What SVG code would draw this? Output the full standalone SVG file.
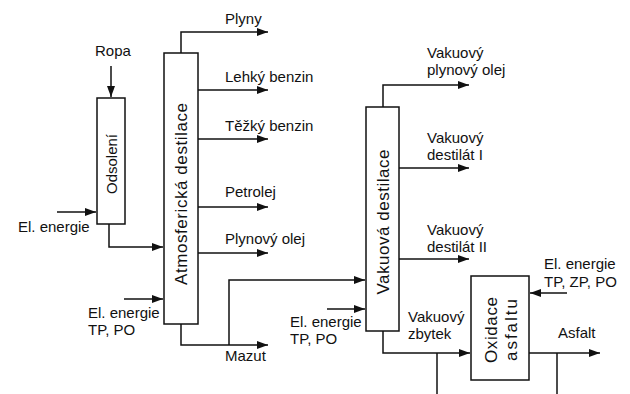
<svg xmlns="http://www.w3.org/2000/svg" width="630" height="394" viewBox="0 0 630 394">
<style>
.box{fill:#fff;stroke:#111;stroke-width:1.5}
.ln{fill:none;stroke:#111;stroke-width:1.5}
.ar{fill:none;stroke:#111;stroke-width:1.5;marker-end:url(#ah)}
text{font-family:"Liberation Sans",Arial,sans-serif;font-size:15px;fill:#111}
.rot{font-size:17px;text-anchor:middle}
</style>
<defs>
<marker id="ah" markerUnits="userSpaceOnUse" markerWidth="11" markerHeight="8" refX="11" refY="4" orient="auto">
<path d="M0,0 L11,4 L0,8 z" fill="#111"/>
</marker>
</defs>
<rect width="630" height="394" fill="#fff"/>
<g id="connectors">
<path class="ar" d="M111,66 V97"/>
<path class="ar" d="M57,212 H96"/>
<path class="ar" d="M109,224 V247 H163"/>
<path class="ar" d="M124,299 H163"/>
<path class="ar" d="M181,53 V32 H268"/>
<path class="ar" d="M198,90 H268"/>
<path class="ar" d="M198,139 H268"/>
<path class="ar" d="M198,207 H268"/>
<path class="ar" d="M198,253 H268"/>
<path class="ar" d="M181,324 V345 H268"/>
<path class="ar" d="M229,345 V280 H365"/>
<path class="ar" d="M327,309 H365"/>
<path class="ar" d="M383,107 V85 H469"/>
<path class="ar" d="M399,168 H469"/>
<path class="ar" d="M399,259 H469"/>
<path class="ar" d="M383,331 V353 H470"/>
<path class="ln" d="M437,353 V394"/>
<path class="ar" d="M567,293 H530"/>
<path class="ar" d="M529,353 H600"/>
<path class="ln" d="M557,353 V394"/>
</g>
<g id="odsoleni">
<rect class="box" x="97" y="98" width="28" height="126"/>
<text class="rot" style="font-size:15px" transform="translate(117,164) rotate(-90)">Odsolení</text>
</g>
<g id="atmosfericka">
<rect class="box" x="164" y="53" width="34" height="271"/>
<text class="rot" transform="translate(187,194) rotate(-90)" textLength="182" lengthAdjust="spacing">Atmosferická destilace</text>
</g>
<g id="vakuova">
<rect class="box" x="366" y="107" width="33" height="224"/>
<text class="rot" transform="translate(389,222) rotate(-90)" textLength="145" lengthAdjust="spacing">Vakuová destilace</text>
</g>
<g id="oxidace">
<rect class="box" x="471" y="276" width="58" height="104"/>
<text class="rot" transform="translate(497,330) rotate(-90)" textLength="66" lengthAdjust="spacing">Oxidace</text>
<text class="rot" transform="translate(517,330) rotate(-90)" textLength="62" lengthAdjust="spacing">asfaltu</text>
</g>
<g id="labels">
<text x="95" y="56">Ropa</text>
<text x="18" y="232">El. energie</text>
<text x="88" y="318">El. energie<tspan x="88" dy="17">TP, PO</tspan></text>
<text x="225" y="24">Plyny</text>
<text x="225" y="82">Lehký benzin</text>
<text x="225" y="131">Těžký benzin</text>
<text x="225" y="197">Petrolej</text>
<text x="225" y="244">Plynový olej</text>
<text x="225" y="361">Mazut</text>
<text x="290" y="327">El. energie<tspan x="290" dy="17">TP, PO</tspan></text>
<text x="427" y="58">Vakuový<tspan x="427" dy="17">plynový olej</tspan></text>
<text x="427" y="143">Vakuový<tspan x="427" dy="17">destilát I</tspan></text>
<text x="427" y="235">Vakuový<tspan x="427" dy="17">destilát II</tspan></text>
<text x="408" y="322">Vakuový<tspan x="408" dy="17">zbytek</tspan></text>
<text x="544" y="269">El. energie<tspan x="544" dy="18">TP, ZP, PO</tspan></text>
<text x="558" y="338">Asfalt</text>
</g>
</svg>
